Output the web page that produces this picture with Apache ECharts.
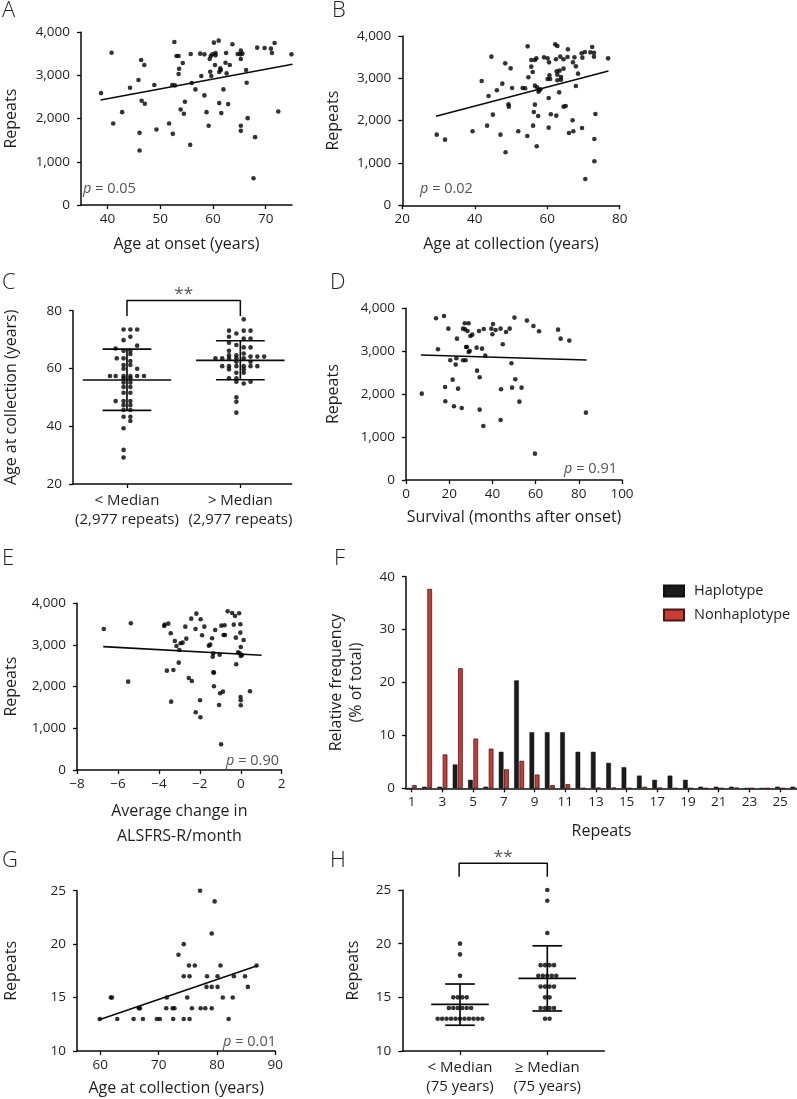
<!DOCTYPE html>
<html><head><meta charset="utf-8">
<script src="https://cdn.jsdelivr.net/npm/echarts@6/dist/echarts.min.js"></script>
<style>html,body{margin:0;padding:0;background:#fff}#c{width:797px;height:1099px}</style>
</head><body><div id="c"></div><script>
// ---------- DATA ----------
const aPoints = [[38.8,2592],[40.8,3528],[41.1,1888],[42.8,2151],[44.3,2716],[45.9,2894],[46.1,1671],[46.1,1261],[46.4,3358],[46.5,2414],[47.0,3242],[47.1,2344],[48.9,2778],[49.3,1749],[51.7,1888],[52.3,2778],[52.4,1648],[52.7,3776],[52.8,2770],[53.1,3451],[53.5,3451],[53.5,3033],[53.6,3157],[53.9,2213],[54.3,3289],[54.5,2112],[54.7,2391],[55.7,1393],[55.8,3497],[56.0,2824],[56.7,2677],[57.6,3505],[57.8,2987],[58.4,2538],[58.4,3489],[58.8,2151],[59.2,1834],[59.4,3381],[59.5,3087],[59.6,3451],[59.7,2987],[59.9,3489],[60.2,3760],[60.4,3242],[60.5,3520],[60.5,3466],[61.1,3807],[61.2,3079],[61.2,2360],[61.4,3164],[61.5,3126],[61.6,2128],[62.0,2677],[62.4,3296],[62.5,3520],[62.6,3048],[62.9,2337],[63.2,3242],[63.7,3722],[64.7,3497],[65.2,3489],[65.3,3575],[65.3,3381],[65.3,1834],[65.3,1718],[65.6,3505],[66.3,3126],[66.4,2832],[66.6,2012],[67.7,619],[68.0,1571],[68.4,3644],[69.8,3637],[71.0,3621],[71.2,3520],[71.7,3753],[72.4,2167],[74.9,3489]];
const aFit = [[38.7,2430],[75.1,3258]];

const bPoints = [[29.5,1669],[31.8,1551],[39.4,1748],[41.9,2937],[43.4,1882],[43.8,2583],[44.6,3512],[45.0,2142],[46.1,2717],[47.1,1669],[47.6,2874],[48.4,3354],[48.5,1252],[49.3,2386],[49.4,2331],[49.9,3236],[50.3,2772],[52.0,1748],[53.2,2772],[53.9,2764],[54.5,1638],[54.6,3756],[54.8,3024],[55.6,3433],[55.6,3276],[56.0,3150],[56.1,1882],[56.3,2205],[56.6,3433],[56.6,2378],[56.6,2827],[57.0,3472],[57.1,1394],[57.2,2787],[57.5,2110],[57.6,2685],[57.8,2724],[58.1,2740],[59.1,3496],[60.1,3472],[60.1,2984],[60.4,2535],[60.4,1835],[60.5,3378],[60.6,3071],[60.8,2984],[61.0,2150],[62.2,3803],[62.4,3449],[62.5,2118],[62.6,3165],[62.8,3764],[62.8,3087],[62.8,2953],[63.3,2669],[63.4,3181],[63.6,3512],[63.8,3031],[63.8,2968],[64.5,3449],[64.5,3228],[64.5,2331],[65.1,2346],[65.6,3504],[65.7,3685],[66.0,1709],[67.0,2008],[67.1,3378],[67.2,1748],[67.5,3496],[67.9,3283],[67.9,2819],[68.3,4008],[68.5,3110],[69.5,3591],[69.6,1827],[69.7,3488],[70.4,3622],[70.5,622],[71.9,3614],[72.4,3740],[72.9,3606],[72.9,3512],[73.0,1567],[73.0,1039],[73.3,2157],[76.8,3472]];
const bFit = [[29.3,2102],[76.9,3173]];

const cCategories = ['< Median\n(2,977 repeats)', '> Median\n(2,977 repeats)'];
const cLow = [[0.97,73.5],[1.03,73.5],[1.09,73.5],[1.03,71.0],[0.97,69.8],[1.09,67.9],[0.90,66.9],[0.97,66.1],[1.03,66.1],[1.03,65.0],[0.91,63.5],[0.97,63.5],[1.03,62.6],[0.97,61.2],[1.03,61.2],[0.97,59.9],[1.09,59.9],[0.85,57.4],[0.90,57.4],[0.97,57.4],[1.03,57.4],[1.09,57.4],[1.15,57.4],[0.97,56.6],[1.03,56.6],[0.97,55.1],[1.03,55.1],[0.97,53.6],[1.03,53.6],[0.97,51.6],[1.03,51.6],[0.90,48.7],[0.97,48.7],[1.03,48.7],[0.97,47.3],[1.03,47.3],[0.97,45.6],[1.03,45.6],[0.97,43.3],[1.03,43.3],[1.03,41.8],[0.97,39.3],[0.97,31.8],[0.97,29.2]];
const cHigh = [[2.03,77.0],[1.90,73.1],[2.03,73.1],[2.09,73.1],[1.965,72.1],[1.90,71.0],[2.03,70.4],[2.09,70.4],[1.90,68.9],[1.965,68.1],[2.03,67.3],[2.09,67.3],[1.90,66.1],[2.03,65.2],[1.90,64.6],[1.965,64.6],[2.09,64.1],[2.15,64.1],[2.21,64.1],[1.78,63.5],[1.84,63.5],[1.90,63.5],[1.965,63.5],[2.03,63.5],[1.965,62.3],[2.09,62.3],[1.84,60.8],[1.90,60.8],[1.965,60.8],[2.03,60.8],[2.09,60.8],[2.15,60.8],[1.90,59.7],[2.03,59.7],[1.965,58.5],[2.03,58.5],[1.90,56.6],[1.965,56.6],[1.965,55.4],[2.09,55.4],[2.03,54.8],[1.965,50.0],[1.965,48.5],[1.965,44.7]];
// [group, mean, mean+SD, mean-SD]
const cStats = [[1,56.0,66.7,45.5],[2,62.8,69.6,56.1]];
const cBracket = [[1,78.2],[1,83.5],[2,83.5],[2,78.2]];

const dPoints = [[7.3,2012],[13.9,3767],[14.8,3045],[17.6,3821],[18.1,2167],[18.2,1833],[19.6,3526],[20.5,2789],[21.6,2338],[22.2,1717],[23.0,2688],[23.3,2835],[23.6,3293],[24.1,2128],[25.8,1678],[26.4,2789],[26.4,3526],[27.2,3650],[27.3,3510],[27.6,2789],[27.8,3099],[28.2,3099],[28.5,3472],[29.0,3650],[29.0,2983],[29.5,3006],[29.8,3355],[30.7,3386],[32.7,3083],[32.9,2548],[33.8,3472],[34.1,2392],[34.1,1639],[35.2,3060],[35.8,1258],[36.0,3518],[36.7,2897],[39.5,3526],[40.0,3394],[40.3,3635],[41.5,3495],[43.8,3526],[43.8,1398],[44.0,2113],[44.8,3161],[46.3,3448],[48.0,3526],[48.8,2719],[49.1,2152],[50.2,3783],[50.6,2346],[52.5,1825],[53.5,2152],[56.0,3713],[59.0,3589],[59.7,614],[61.6,3464],[70.4,3503],[71.6,3293],[75.6,3247],[83.3,1569]];
const dFit = [[6.9,2913],[83.6,2796]];

const ePoints = [[-6.69,3384],[-5.50,2120],[-5.37,3520],[-3.72,3488],[-3.54,3512],[-3.74,3456],[-3.61,2384],[-3.42,3280],[-3.40,1640],[-3.29,2400],[-3.22,3096],[-3.14,2976],[-3.03,2576],[-3.00,2880],[-2.94,3040],[-2.84,3056],[-2.71,3440],[-2.66,3152],[-2.54,2208],[-2.42,3632],[-2.39,2136],[-2.20,1384],[-2.21,3384],[-2.17,3752],[-1.99,1672],[-1.97,1264],[-1.96,3616],[-1.89,3232],[-1.78,3440],[-1.56,2984],[-1.49,3008],[-1.40,3160],[-1.37,2720],[-1.34,2344],[-1.34,2800],[-1.31,2336],[-1.31,2008],[-1.25,3360],[-1.06,1560],[-1.03,2768],[-1.01,1840],[-0.95,3464],[-0.96,616],[-0.87,1880],[-0.84,3240],[-0.79,3472],[-0.77,3240],[-0.64,3808],[-0.42,3768],[-0.34,3488],[-0.28,3696],[-0.24,3176],[-0.22,2536],[-0.13,2824],[-0.08,3760],[-0.05,2800],[-0.02,3496],[-0.02,3296],[0.00,2952],[0.00,2736],[-0.01,1752],[0.00,1672],[0.00,1552],[0.06,2760],[0.14,3120],[0.45,1888]];
const eFit = [[-6.72,2960],[1.02,2752]];

const fRepeats = [1,2,3,4,5,6,7,8,9,10,11,12,13,14,15,16,17,18,19,20,21,22,23,24,25,26];
const fTickLabels = [1,3,5,7,9,11,13,15,17,19,21,23,25];
const fHaplotype = [0,0.3,0.3,4.5,1.6,0.3,6.9,20.4,10.6,10.6,10.6,6.9,6.9,4.8,4.0,2.4,1.6,2.4,1.6,0.3,0.3,0.3,0,0,0.3,0.3];
const fNonhaplotype = [0.6,37.7,6.4,22.7,9.4,7.5,3.6,5.2,2.6,0.6,0.8,0,0.1,0.1,0,0.3,0.1,0,0,0,0,0.1,0,0,0,0];

const gPoints = [[59.9,13],[61.8,15],[62.0,15],[62.9,13],[65.7,13],[66.6,14],[66.8,14],[67.3,13],[69.7,13],[70.2,13],[71.3,14],[71.4,15],[72.4,14],[72.5,13],[72.7,14],[73.4,19],[74.3,20],[74.3,17],[74.3,13],[74.9,15],[75.2,18],[75.3,17],[75.3,13],[75.7,14],[76.2,18],[77.1,25],[77.2,14],[78.0,14],[78.2,16],[78.3,17],[79.1,21],[79.1,16],[79.1,14],[79.6,24],[80.1,16],[80.1,17],[80.6,18],[81.0,15],[82.0,13],[82.7,15],[82.9,17],[84.8,17],[85.3,16],[86.8,18]];
const gFit = [[59.8,12.92],[86.9,17.98]];

const hCategories = ['< Median\n(75 years)', '\u2265 Median\n(75 years)'];
const hLow = [[1.0,20],[1.0,19],[1.0,17],[0.923,15],[0.974,15],[1.026,15],[1.077,15],[0.872,14],[0.923,14],[0.974,14],[1.026,14],[1.077,14],[1.128,14],[0.744,13],[0.795,13],[0.846,13],[0.897,13],[0.949,13],[1.0,13],[1.051,13],[1.103,13],[1.154,13],[1.205,13],[1.256,13]];
const hHigh = [[2.0,25],[2.0,24],[2.0,21],[1.923,18],[1.974,18],[2.026,18],[2.077,18],[1.897,17],[1.949,17],[2.0,17],[2.051,17],[2.103,17],[1.923,16],[1.974,16],[2.026,16],[2.077,16],[1.974,15],[2.026,15],[1.923,14],[1.974,14],[2.026,14],[2.077,14],[1.974,13],[2.026,13]];
const hStats = [[1,14.35,16.24,12.4],[2,16.77,19.8,13.73]];
const hBracket = [[0.99,26.24],[0.99,27.5],[2.0,27.5],[2.0,26.24]];

// ---------- STYLE / LAYOUT ----------
const FONT = '"Open Sans", "Noto Sans", sans-serif';
const TXT = '#1e1e1e';
const INK = '#0a0a0a';
const thousands = v => v.toLocaleString('en-US');
const minus = v => (v < 0 ? '\u2212' : '') + Math.abs(v);

const grids = [
  {left: 76.9, top: 32.3, width: 215.1, height: 172.7},   // A
  {left: 402.3, top: 36, width: 217.4, height: 169.3},    // B
  {left: 71.7, top: 310.7, width: 220, height: 173.3},    // C
  {left: 406, top: 308.3, width: 216, height: 171.7},     // D
  {left: 73.3, top: 603.3, width: 208.4, height: 166.7},  // E
  {left: 406, top: 576.7, width: 391, height: 211.6},     // F
  {left: 72.7, top: 890.7, width: 202.6, height: 161},    // G
  {left: 402.3, top: 890, width: 202, height: 161}        // H
];

function axis(dim, gi, o) {
  const a = {
    type: 'value', gridIndex: gi, min: o.min, max: o.max,
    axisLine: {show: true, onZero: false, lineStyle: {color: INK, width: 1.5}},
    axisTick: {show: true, length: 4, inside: false, lineStyle: {color: INK, width: 1.3}},
    axisLabel: {color: TXT, fontSize: o.labelSize || 13.5, fontFamily: FONT, margin: dim === 'y' ? 11 : 7},
    splitLine: {show: false},
    name: o.name || '', nameLocation: 'middle', nameGap: o.nameGap || 30,
    nameTextStyle: {fontSize: 16, color: TXT, fontFamily: FONT, lineHeight: o.nameLH || 20}
  };
  if (o.interval != null) a.interval = o.interval;
  if (o.custom) { a.axisTick.customValues = o.custom; a.axisLabel.customValues = o.custom; }
  if (o.formatter) a.axisLabel.formatter = o.formatter;
  if (o.labelLH) a.axisLabel.lineHeight = o.labelLH;
  return a;
}

const xAxes = [
  axis('x', 0, {min: 35, max: 75, custom: [40,50,60,70], name: 'Age at onset (years)', nameGap: 29}),
  axis('x', 1, {min: 20, max: 80, interval: 20, name: 'Age at collection (years)', nameGap: 29}),
  axis('x', 2, {min: 0.524, max: 2.453, custom: [1,2], formatter: v => cCategories[Math.round(v) - 1], labelLH: 19, labelSize: 15}),
  axis('x', 3, {min: 0, max: 100, interval: 20, name: 'Survival (months after onset)', nameGap: 27}),
  axis('x', 4, {min: -8, max: 2, interval: 2, formatter: minus, name: 'Average change in\nALSFRS-R/month', nameGap: 29, nameLH: 25}),
  axis('x', 5, {min: 0.629, max: 26.1, custom: fTickLabels, name: 'Repeats', nameGap: 33}),
  axis('x', 6, {min: 56, max: 90, custom: [60,70,80,90], name: 'Age at collection (years)', nameGap: 27}),
  axis('x', 7, {min: 0.339, max: 2.653, custom: [1,2], formatter: v => hCategories[Math.round(v) - 1], labelLH: 19, labelSize: 15})
];
const yAxes = [
  axis('y', 0, {min: 0, max: 4000, interval: 1000, formatter: thousands, name: 'Repeats', nameGap: 60}),
  axis('y', 1, {min: 0, max: 4000, interval: 1000, formatter: thousands, name: 'Repeats', nameGap: 59}),
  axis('y', 2, {min: 20, max: 80, interval: 20, name: 'Age at collection (years)', nameGap: 52}),
  axis('y', 3, {min: 0, max: 4000, interval: 1000, formatter: thousands, name: 'Repeats', nameGap: 63}),
  axis('y', 4, {min: 0, max: 4000, interval: 1000, formatter: thousands, name: 'Repeats', nameGap: 56}),
  axis('y', 5, {min: 0, max: 40, interval: 10, name: 'Relative frequency\n(% of total)', nameGap: 40, nameLH: 20}),
  axis('y', 6, {min: 10, max: 25, interval: 5, name: 'Repeats', nameGap: 56}),
  axis('y', 7, {min: 10, max: 25, interval: 5, name: 'Repeats', nameGap: 39})
];

function dots(i, data) {
  return {type: 'scatter', xAxisIndex: i, yAxisIndex: i, data, symbolSize: 4.6,
          itemStyle: {color: '#000'}, silent: true, z: 3};
}
function fit(i, data) {
  return {type: 'line', xAxisIndex: i, yAxisIndex: i, data, symbol: 'none', silent: true,
          lineStyle: {color: INK, width: 1.6}, z: 4};
}
function sd(i, data, halfMean, halfCap) {
  return {
    type: 'custom', xAxisIndex: i, yAxisIndex: i, data, silent: true, z: 5, clip: false,
    encode: {x: 0, y: 1},
    renderItem(params, api) {
      const x = api.value(0);
      const c = api.coord([x, api.value(1)]);
      const h = api.coord([x, api.value(2)]);
      const l = api.coord([x, api.value(3)]);
      const u = api.size([1, 0])[0];
      const st = {stroke: INK, lineWidth: 1.7};
      return {type: 'group', children: [
        {type: 'line', shape: {x1: c[0] - halfMean * u, y1: c[1], x2: c[0] + halfMean * u, y2: c[1]}, style: st},
        {type: 'line', shape: {x1: h[0], y1: h[1], x2: l[0], y2: l[1]}, style: st},
        {type: 'line', shape: {x1: h[0] - halfCap * u, y1: h[1], x2: h[0] + halfCap * u, y2: h[1]}, style: st},
        {type: 'line', shape: {x1: l[0] - halfCap * u, y1: l[1], x2: l[0] + halfCap * u, y2: l[1]}, style: st}
      ]};
    }
  };
}
function bracket(i, data) {
  const mid = [(data[1][0] + data[2][0]) / 2, data[1][1]];
  return [
    {type: 'line', xAxisIndex: i, yAxisIndex: i, data, symbol: 'none', clip: false, silent: true,
     lineStyle: {color: INK, width: 1.5}, z: 6},
    {type: 'scatter', xAxisIndex: i, yAxisIndex: i, data: [mid], symbolSize: 0, clip: false, silent: true,
     label: {show: true, position: 'top', distance: -2, formatter: '**', fontSize: 17, fontFamily: FONT, color: TXT}}
  ];
}

const series = [
  dots(0, aPoints), fit(0, aFit),
  dots(1, bPoints), fit(1, bFit),
  dots(2, cLow), dots(2, cHigh), sd(2, cStats, 0.39, 0.215), ...bracket(2, cBracket),
  dots(3, dPoints), fit(3, dFit),
  dots(4, ePoints), fit(4, eFit),
  {type: 'bar', name: 'Haplotype', xAxisIndex: 5, yAxisIndex: 5,
   data: fRepeats.map((r, k) => [r, fHaplotype[k]]), barWidth: 4.7, barGap: '13%',
   itemStyle: {color: '#1b1b1b', borderColor: '#111', borderWidth: 0.5}, silent: true},
  {type: 'bar', name: 'Nonhaplotype', xAxisIndex: 5, yAxisIndex: 5,
   data: fRepeats.map((r, k) => [r, fNonhaplotype[k]]), barWidth: 4.7, barGap: '13%',
   itemStyle: {color: '#c63d37', borderColor: '#4a1614', borderWidth: 0.8}, silent: true},
  dots(6, gPoints), fit(6, gFit),
  dots(7, hLow), dots(7, hHigh), sd(7, hStats, 0.33, 0.17), ...bracket(7, hBracket)
];

function letter(t, x, y) {
  return {type: 'text', x, y, silent: true,
          style: {text: t, fontSize: 22, fontWeight: 300, fontFamily: FONT, fill: '#222', verticalAlign: 'top'}};
}
function pText(t, x, y, align) {
  return {type: 'text', x, y, silent: true,
          style: {text: '{i|p} = ' + t, align, verticalAlign: 'middle', fontSize: 14.5, fontFamily: FONT, fill: '#555',
                  rich: {i: {fontStyle: 'italic', fontSize: 14.5, fontFamily: FONT, fill: '#555'}}}};
}

const chart = echarts.init(document.getElementById('c'), null, {renderer: 'canvas'});
chart.setOption({
  animation: false,
  backgroundColor: '#fff',
  textStyle: {fontFamily: FONT},
  grid: grids.map(g => Object.assign({containLabel: false}, g)),
  xAxis: xAxes,
  yAxis: yAxes,
  legend: {
    data: ['Haplotype', 'Nonhaplotype'], orient: 'vertical', left: 658, top: 578,
    itemWidth: 20, itemHeight: 11, itemGap: 8, icon: 'rect',
    textStyle: {fontSize: 14.5, fontFamily: FONT, color: TXT, lineHeight: 16, padding: [0, 0, 0, 5]}
  },
  series,
  graphic: [
    letter('A', 2, 0), letter('B', 332, 0), letter('C', 2, 272), letter('D', 330, 272),
    letter('E', 2, 548), letter('F', 334, 548), letter('G', 2, 850), letter('H', 330, 850),
    pText('0.05', 83, 189, 'left'), pText('0.02', 420, 189, 'left'),
    pText('0.91', 617, 469, 'right'), pText('0.90', 279, 761, 'right'), pText('0.01', 276, 1042, 'right')
  ]
});
</script></body></html>
